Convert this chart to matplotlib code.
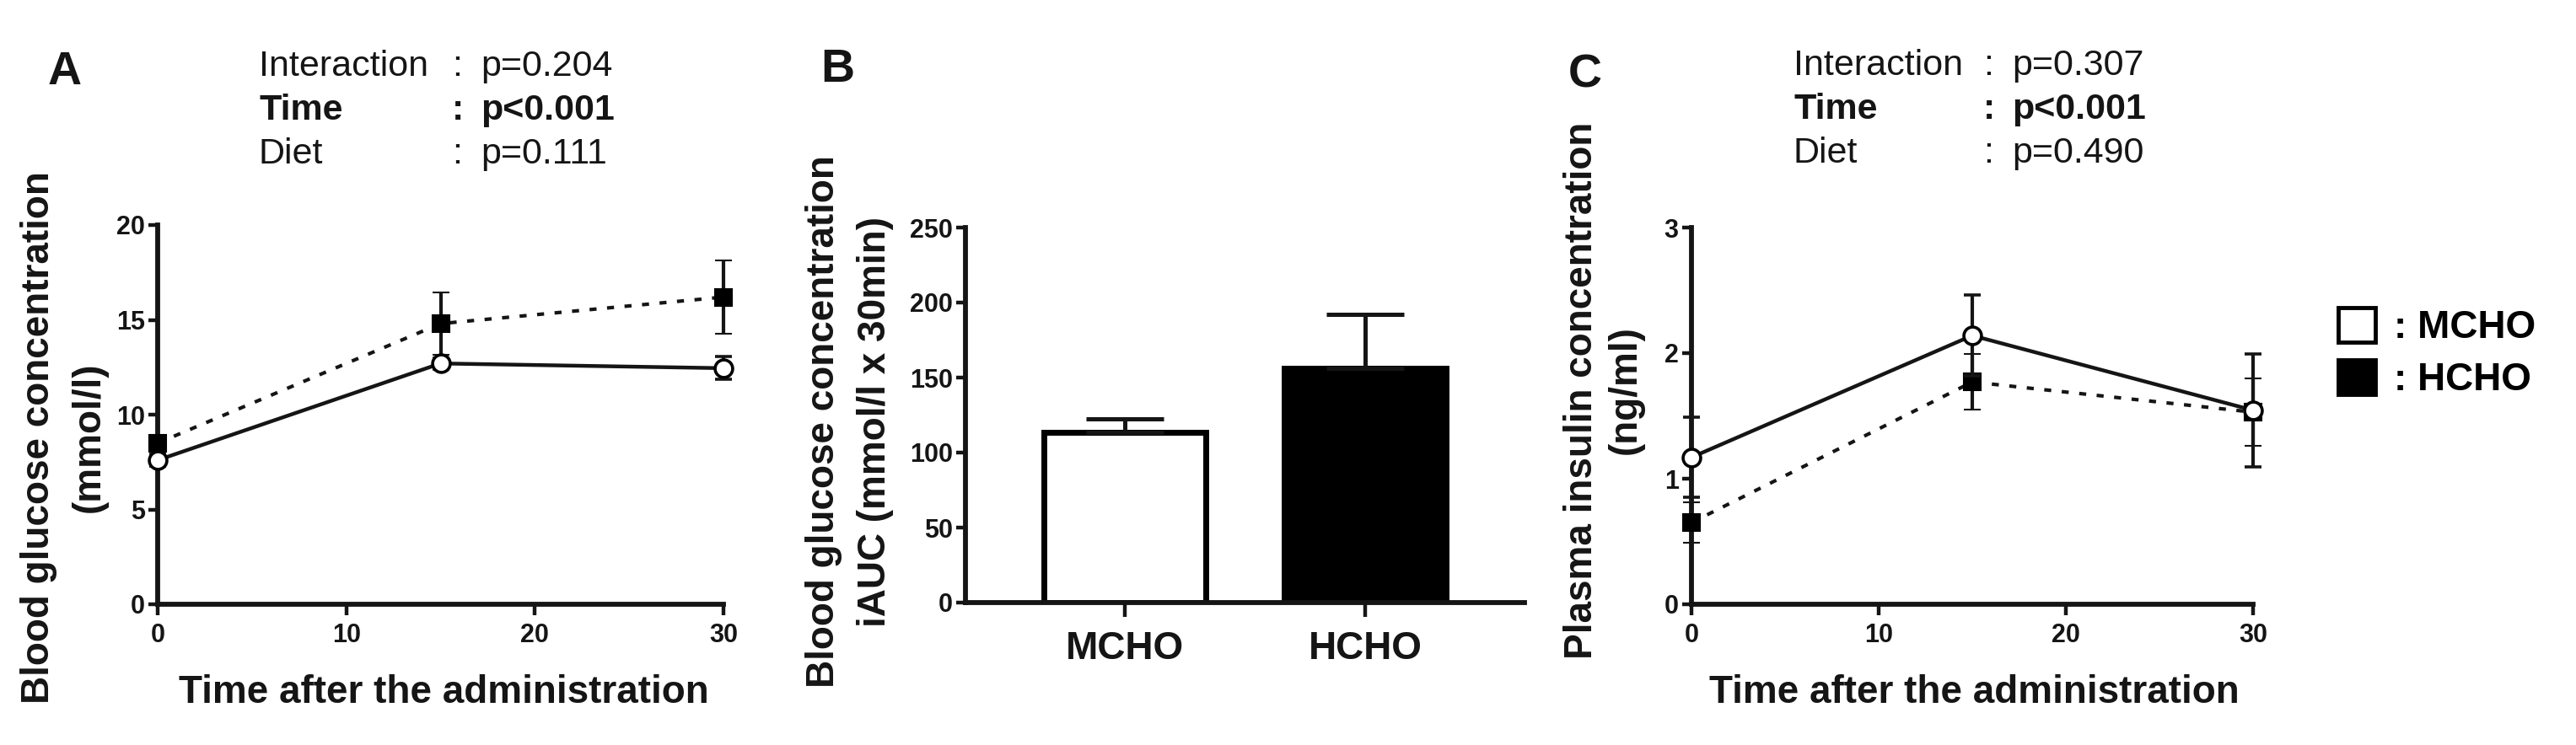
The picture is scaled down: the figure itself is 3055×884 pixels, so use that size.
import matplotlib
matplotlib.use("Agg")
import matplotlib.pyplot as plt
from matplotlib.patches import Patch

# ---------------- data ----------------
time_min = [0, 15, 30]

glucose_mcho = [7.6, 12.7, 12.45]
glucose_mcho_sem = [0.3, 0.3, 0.6]
glucose_hcho = [8.5, 14.8, 16.2]
glucose_hcho_sem = [0.4, 1.65, 1.95]

iauc_groups = ["MCHO", "HCHO"]
iauc_values = [113.5, 156.0]
iauc_sem = [9.0, 36.0]

insulin_mcho = [1.17, 2.14, 1.545]
insulin_mcho_sem = [0.32, 0.32, 0.45]
insulin_hcho = [0.65, 1.77, 1.53]
insulin_hcho_sem = [0.16, 0.22, 0.27]

stats_A_labels = ["Interaction", "Time", "Diet"]
stats_A_values = ["p=0.204", "p<0.001", "p=0.111"]
stats_C_labels = ["Interaction", "Time", "Diet"]
stats_C_values = ["p=0.307", "p<0.001", "p=0.490"]

x_ticks_time = [0, 10, 20, 30]
y_ticks_A = [0, 5, 10, 15, 20]
y_ticks_B = [0, 50, 100, 150, 200, 250]
y_ticks_C = [0, 1, 2, 3]

# ---------------- style ----------------
W, H = 3055, 884
plt.rcParams['font.family'] = ['Liberation Sans', 'DejaVu Sans']
fig = plt.figure(figsize=(W / 100, H / 100), dpi=100)
fig.patch.set_facecolor('white')

INK = '#151515'
SPINE_LW = 4.2
TICK_FS = 22
BIG_FS = 33


def fx(x):
    return x / W


def fy(y):
    return 1 - y / H


def make_axes(x0, x1, y_top, y_bot):
    return fig.add_axes([fx(x0), fy(y_bot), (x1 - x0) / W, (y_bot - y_top) / H])


def style_axes(ax):
    for s in ['top', 'right']:
        ax.spines[s].set_visible(False)
    for s in ['left', 'bottom']:
        ax.spines[s].set_linewidth(SPINE_LW)
        ax.spines[s].set_color(INK)
        ax.spines[s].set_capstyle('projecting')
    ax.tick_params(axis='both', colors=INK, width=3.2, direction='out')
    ax.tick_params(axis='y', length=8, pad=3)
    ax.tick_params(axis='x', length=9, pad=7)
    for lab in ax.get_xticklabels() + ax.get_yticklabels():
        lab.set_fontweight('bold')
        lab.set_fontsize(TICK_FS)
        lab.set_color(INK)


def line_panel(ax, m, msem, h, hsem):
    ax.errorbar(time_min, h, yerr=hsem, color=INK, lw=3.0, ls=(0, (2.0, 3.0)),
                marker='s', ms=14, mfc='black', mec='black', mew=1.5,
                elinewidth=3.0, capsize=7, capthick=3.0, clip_on=False, zorder=3)
    ax.errorbar(time_min, m, yerr=msem, color=INK, lw=3.2, ls='-',
                marker='o', ms=15, mfc='white', mec='black', mew=2.6,
                elinewidth=3.0, capsize=7, capthick=3.0, clip_on=False, zorder=4)
    ax.set_xlim(0, 30)
    ax.set_xticks(x_ticks_time)


# ---------------- Panel A ----------------
axA = make_axes(187, 858, 267, 717)
line_panel(axA, glucose_mcho, glucose_mcho_sem, glucose_hcho, glucose_hcho_sem)
axA.set_ylim(0, 20)
axA.set_yticks(y_ticks_A)
style_axes(axA)

# ---------------- Panel B ----------------
axB = make_axes(1145, 1808, 270, 715)
xpos = list(range(len(iauc_groups)))
axB.bar(xpos, iauc_values, width=0.675, color=['white', 'black'],
        edgecolor='black', linewidth=5.0, zorder=2)
axB.errorbar(xpos, iauc_values, yerr=[[0] * len(iauc_sem), iauc_sem], fmt='none',
             ecolor=INK, elinewidth=3.6, capsize=33, capthick=3.6, zorder=3)
axB.set_xlim(-0.663, 1.663)
axB.set_ylim(0, 250)
axB.set_yticks(y_ticks_B)
axB.set_xticks(xpos)
axB.set_xticklabels(iauc_groups)
style_axes(axB)
axB.tick_params(axis='x', length=12, pad=12)
for lab in axB.get_xticklabels():
    lab.set_fontsize(BIG_FS)

# ---------------- Panel C ----------------
axC = make_axes(2006, 2672, 270, 717)
line_panel(axC, insulin_mcho, insulin_mcho_sem, insulin_hcho, insulin_hcho_sem)
axC.set_ylim(0, 3)
axC.set_yticks(y_ticks_C)
style_axes(axC)

# ---------------- labels ----------------
def vtext(x, y, s):
    fig.text(fx(x), fy(y), s, rotation=90, ha='center', va='center',
             fontsize=BIG_FS, fontweight='bold', color=INK)


vtext(46, 519, "Blood glucose concentration")
vtext(106, 519, "(mmol/l)")
vtext(977, 500, "Blood glucose concentration")
vtext(1038, 500, "iAUC (mmol/l x 30min)")
vtext(1876, 463, "Plasma insulin concentration")
vtext(1928, 463, "(ng/ml)")

for xc in (526, 2341):
    fig.text(fx(xc), fy(822), "Time after the administration", ha='center', va='center',
             fontsize=BIG_FS, fontweight='bold', color=INK)

# panel letters
for (x, y, s) in [(77, 86, "A"), (993, 83, "B"), (1880, 90, "C")]:
    fig.text(fx(x), fy(y), s, ha='center', va='center', fontsize=40,
             fontweight='bold', color=INK)


def stats_block(x_lab, x_colon, x_val, ys, labels, values):
    for i, (lab, val) in enumerate(zip(labels, values)):
        fw = 'bold' if lab == "Time" else 'normal'
        for xx, s in [(x_lab, lab), (x_colon, ":"), (x_val, val)]:
            fig.text(fx(xx), fy(ys[i]), s, ha='left', va='center', fontsize=31,
                     fontweight=fw, color=INK)


stats_block(307, 536, 570, [79, 131, 183], stats_A_labels, stats_A_values)
stats_block(2127, 2352, 2386, [78, 130, 182], stats_C_labels, stats_C_values)

# legend
handles = [Patch(facecolor='white', edgecolor='black', linewidth=3.5),
           Patch(facecolor='black', edgecolor='black', linewidth=3.5)]
fig.legend(handles, [": MCHO", ": HCHO"], loc='center left',
           bbox_to_anchor=(fx(2773), fy(419)), frameon=False,
           handlelength=0.95, handleheight=1.0, handletextpad=0.5,
           labelspacing=0.35, borderpad=0, borderaxespad=0,
           prop={'weight': 'bold', 'size': BIG_FS})

fig.savefig("out.png", dpi=100, facecolor='white')
